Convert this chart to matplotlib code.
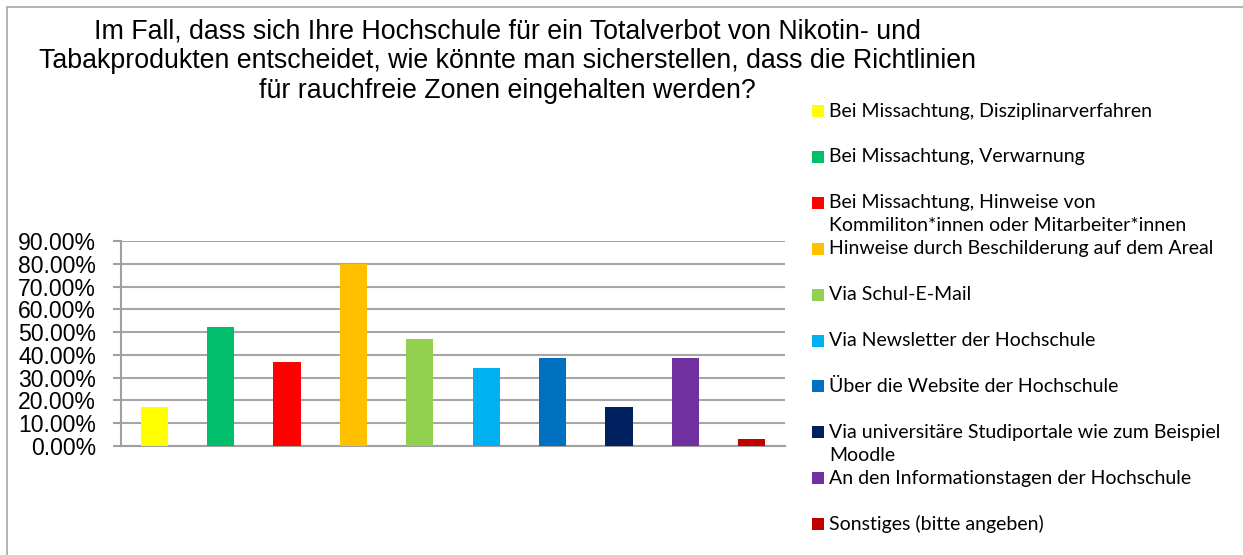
import matplotlib
matplotlib.use("Agg")
import matplotlib.pyplot as plt
from matplotlib.patches import Rectangle
from matplotlib.ticker import PercentFormatter

title = ("Im Fall, dass sich Ihre Hochschule für ein Totalverbot von Nikotin- und\n"
         "Tabakprodukten entscheidet, wie könnte man sicherstellen, dass die Richtlinien\n"
         "für rauchfreie Zonen eingehalten werden?")

categories = [
    "Bei Missachtung, Disziplinarverfahren",
    "Bei Missachtung, Verwarnung",
    "Bei Missachtung, Hinweise von\nKommiliton*innen oder Mitarbeiter*innen",
    "Hinweise durch Beschilderung auf dem Areal",
    "Via Schul-E-Mail",
    "Via Newsletter der Hochschule",
    "Über die Website der Hochschule",
    "Via universitäre Studiportale wie zum Beispiel\nMoodle",
    "An den Informationstagen der Hochschule",
    "Sonstiges (bitte angeben)",
]
values = [0.1724, 0.5230, 0.3700, 0.8010, 0.4710, 0.3440, 0.3870, 0.1724, 0.3870, 0.0320]
colors = ["#FFFF00", "#00BE6C", "#FF0000", "#FFC000", "#92D050",
          "#00B0F0", "#0070C0", "#002060", "#7030A0", "#C00000"]
yticks = [0.0, 0.1, 0.2, 0.3, 0.4, 0.5, 0.6, 0.7, 0.8, 0.9]

W, H = 1243, 555
fig = plt.figure(figsize=(W / 100, H / 100), dpi=100)
fig.patch.set_facecolor("white")

# outer chart border (cropped at right/bottom)
fig.add_artist(Rectangle((7 / W, -0.1), 1.2, 1 - 7 / H + 0.1, transform=fig.transFigure,
                         fill=False, edgecolor="#a6a6a6", linewidth=1.2))

ax = fig.add_axes([121 / W, 1 - 446 / H, (785 - 121) / W, (446 - 241) / H])
x = list(range(len(values)))
ax.bar(x, values, width=0.41, color=colors, zorder=3)
ax.set_xlim(-0.5, len(values) - 0.5)
ax.set_ylim(0, 0.9)
ax.set_yticks(yticks)
ax.yaxis.set_major_formatter(PercentFormatter(1.0, decimals=2))
ax.set_xticks([])
for s in ["top", "right"]:
    ax.spines[s].set_visible(False)
for s in ["left", "bottom"]:
    ax.spines[s].set_color("#a0a0a0")
    ax.spines[s].set_linewidth(1.5)
ax.grid(axis="y", color="#a6a6a6", linewidth=1.5, zorder=0)
ax.tick_params(axis="y", length=6, width=1.5, color="#a0a0a0", pad=12,
               labelsize=16.6, labelcolor="black")
for lbl in ax.get_yticklabels():
    lbl.set_fontfamily("Liberation Sans")

# title, one line at a time
for j, line in enumerate(title.split("\n")):
    fig.text(507 / W, 1 - (38 + j * 30) / H, line, ha="center", va="baseline",
             fontsize=19.3, family="Liberation Sans")

# legend
y0 = 111
step = 45.9
for i, (lab, c) in enumerate(zip(categories, colors)):
    yc = y0 + i * step
    fig.add_artist(Rectangle((812 / W, 1 - (yc + 6) / H), 12 / W, 12 / H,
                             transform=fig.transFigure, facecolor=c, edgecolor="none"))
    for j, line in enumerate(lab.split("\n")):
        fig.text(829 / W, 1 - (yc + 5.5 + j * 23) / H, line, ha="left", va="baseline",
                 fontsize=14, family="Lato")

fig.savefig("out.png", dpi=100)
